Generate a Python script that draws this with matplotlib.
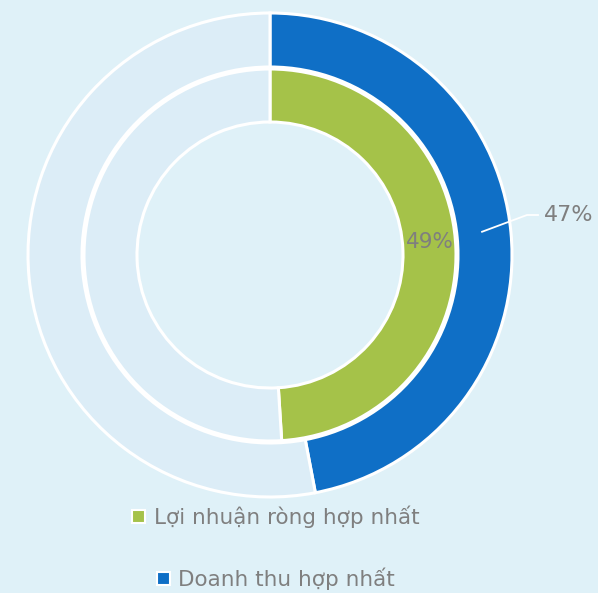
import matplotlib.pyplot as plt
from matplotlib.patches import Patch
import numpy as np

# share of the yearly plan done (percent)
series_names = ['Lợi nhuận ròng hợp nhất', 'Doanh thu hợp nhất']
done_pct = [49, 47]
colors = ['#a5c249', '#0f6fc6']
rest_color = '#dcedf7'
bg = '#dff1f8'
grey = '#7f7f7f'

fig = plt.figure(figsize=(5.98, 5.93), dpi=100, facecolor=bg)
# axes in pixel units, centred on the ring centre
cx, cy, half = 270, 255, 250
ax = fig.add_axes([(cx - half) / 598, (593 - cy - half) / 593, 2 * half / 598, 2 * half / 593])

rings = [(186, 53), (242, 54)]  # (outer radius, width) inner ring first
for (r, w), pct, col in zip(rings, done_pct, colors):
    ax.pie([pct, 100 - pct], radius=r, colors=[col, rest_color], startangle=90,
           counterclock=False,
           wedgeprops=dict(width=w, edgecolor='white', linewidth=2.2))

# pie() resets the limits, so set them afterwards
ax.set_xlim(-half, half)
ax.set_ylim(-half, half)
ax.set_aspect('equal')
ax.axis('off')

# inner label sits in the middle of the green wedge
r_in, w_in = rings[0]
ang = np.deg2rad(90 - done_pct[0] / 100 * 360 / 2)
rm = r_in - w_in / 2
ax.text(rm * np.cos(ang), rm * np.sin(ang) + 8, f'{done_pct[0]}%', color=grey,
        fontsize=15.5, ha='center', va='center')

# outer label with leader line from the middle of the blue wedge
r_out, w_out = rings[1]
ang = np.deg2rad(90 - done_pct[1] / 100 * 360 / 2)
rm = r_out - w_out / 2
x0, y0 = rm * np.cos(ang) - 2, rm * np.sin(ang) + 3
ax.plot([x0, 257, 268], [y0, 40, 40], color='white', lw=1.3, clip_on=False)
ax.text(274, 40, f'{done_pct[1]}%', color=grey, fontsize=16, ha='left', va='center')

# legend, one centred row per series
for name, col, ypix in zip(series_names, colors, [517, 579]):
    h = Patch(facecolor=col, edgecolor='white', linewidth=1.5)
    fig.legend([h], [name], loc='center', bbox_to_anchor=(276 / 598, 1 - ypix / 593),
               frameon=False, fontsize=15.5, labelcolor=grey,
               handlelength=0.6, handleheight=0.6, handletextpad=0.4)

fig.savefig('out.png', dpi=100, facecolor=bg)
